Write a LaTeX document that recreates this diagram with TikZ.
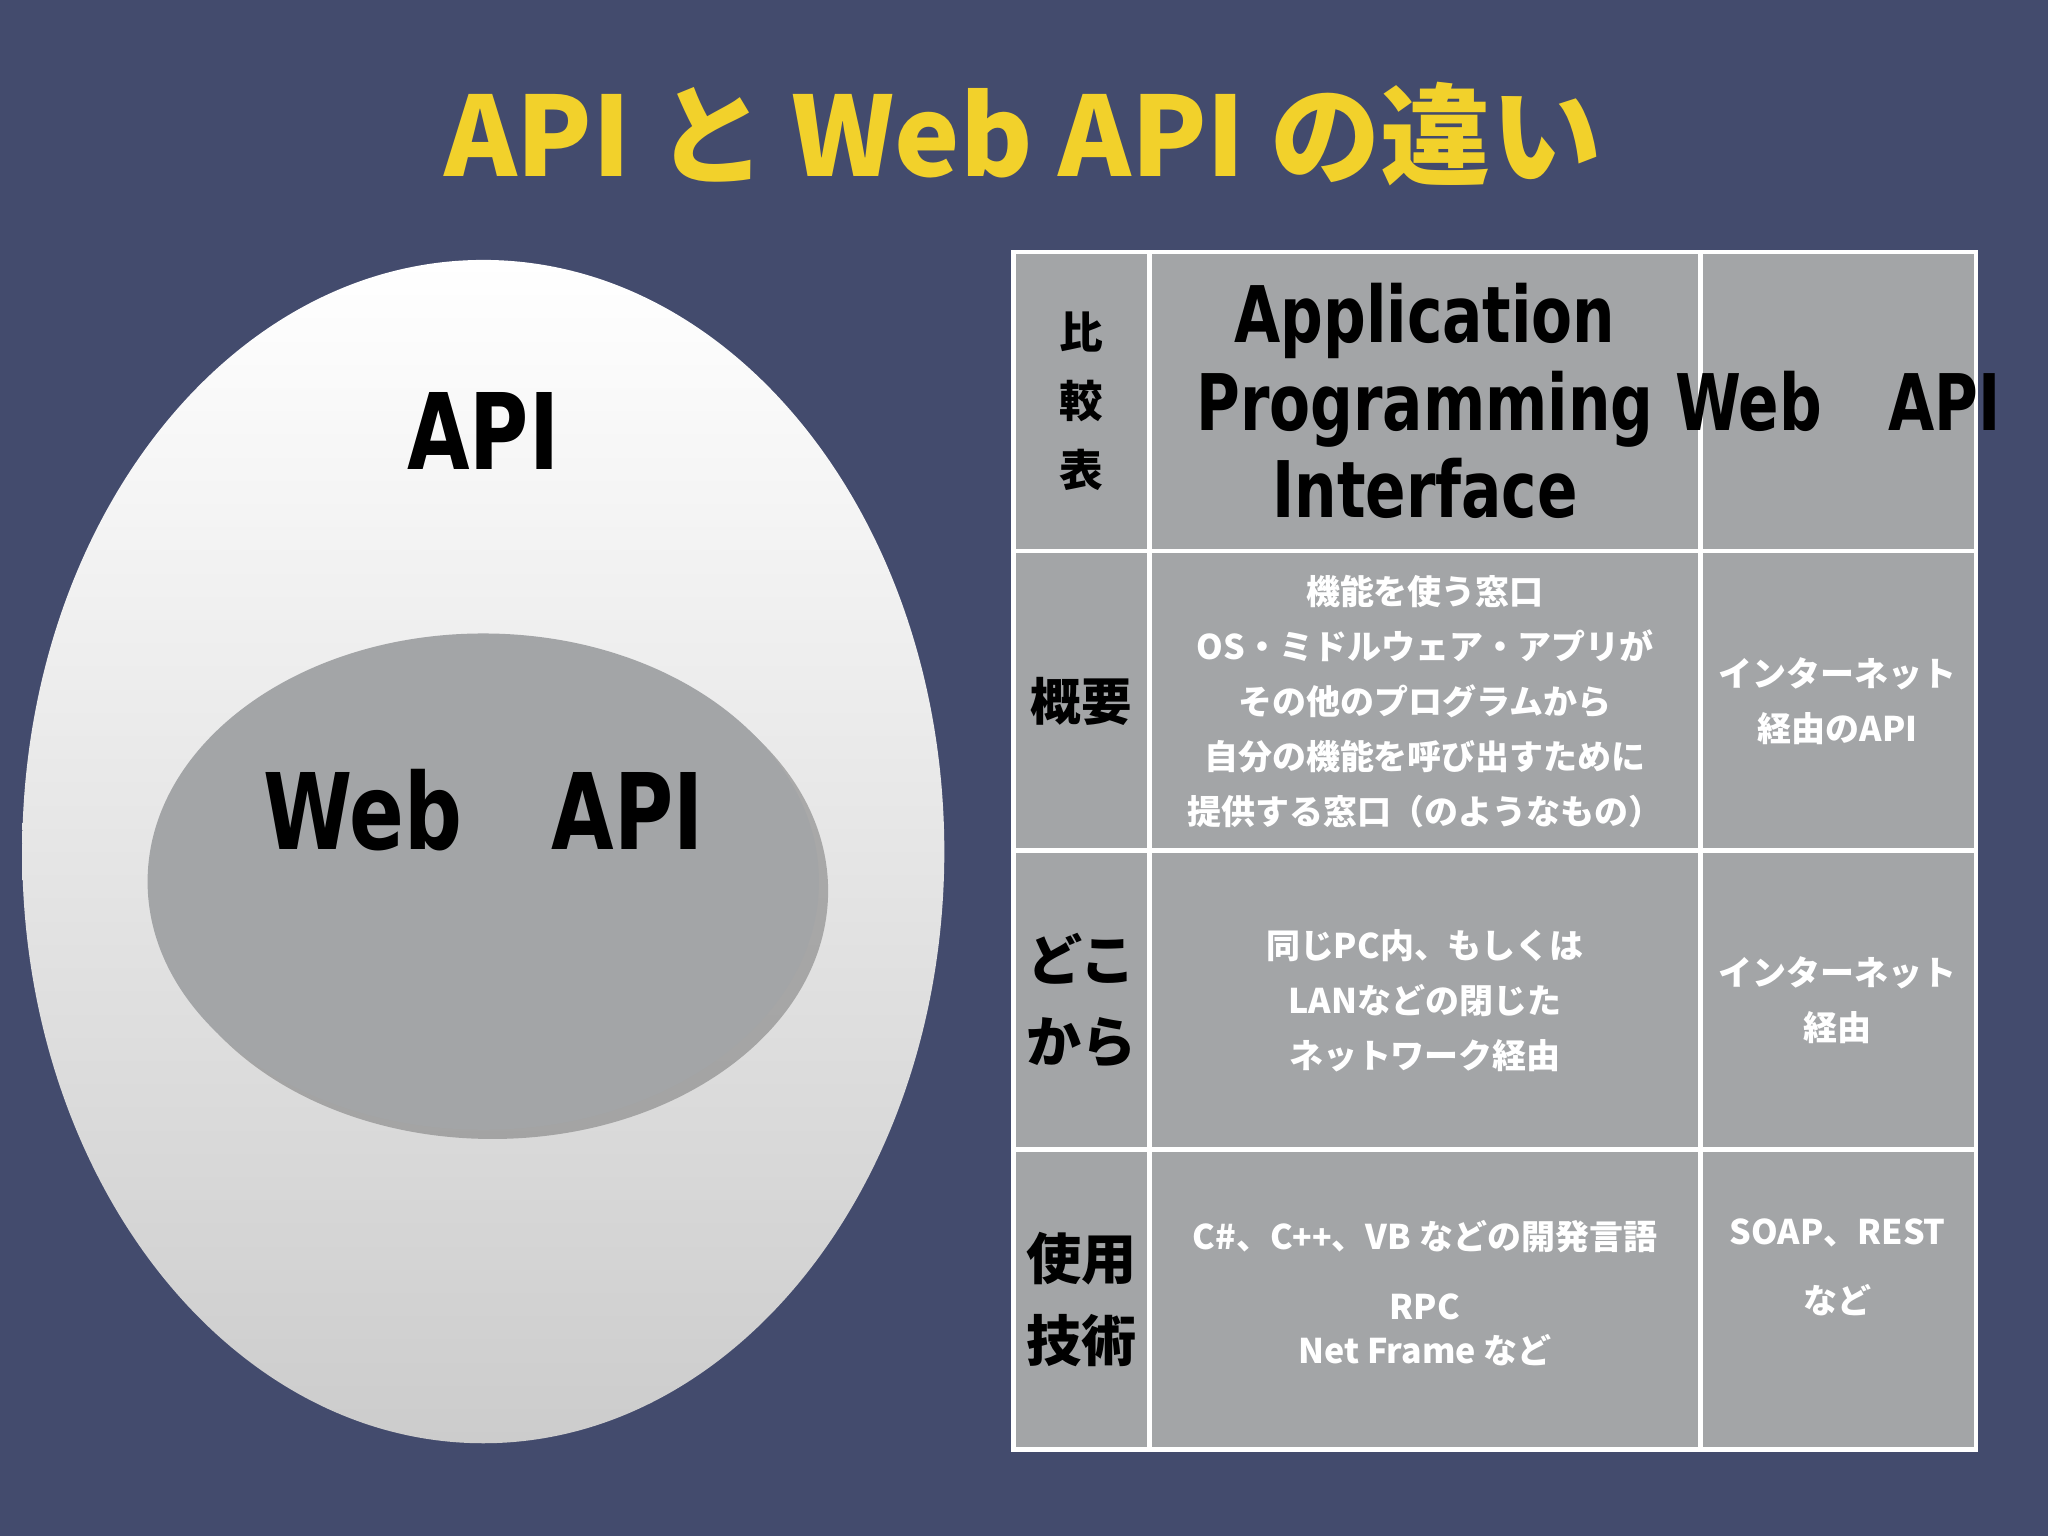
\documentclass[tikz,border=0pt]{standalone}
\usepackage{fontspec}
\setmainfont{Noto Sans CJK JP}
\newfontfamily\cjk{Noto Sans CJK JP}
\newfontfamily\cond{DejaVu Sans Condensed}
\usetikzlibrary{shadows}
\definecolor{bg}{HTML}{434B6D}
\definecolor{ttl}{HTML}{F2D12B}
\definecolor{cell}{HTML}{A3A5A7}
\tikzset{
 body/.style={text=white,font=\cjk\fontsize{7.4pt}{12pt}\selectfont\bfseries,align=center},
 hd/.style={text=black,font=\cond\bfseries\fontsize{17pt}{19pt}\selectfont,align=center,xscale=0.85},
 lf/.style={text=black,font=\cjk\bfseries\fontsize{11pt}{18pt}\selectfont,align=center}
}
\begin{document}
\begin{tikzpicture}[x=0.01cm,y=-0.01cm]
\fill[bg] (0,0) rectangle (1568,1176);
\node[text=ttl,font=\cjk\bfseries\fontsize{24pt}{28pt}\selectfont] (title) at (783,103) {API と Web API の違い};
% ellipses
\shade[top color=white,bottom color=gray!40] (370,652) ellipse [x radius=353,y radius=453];
\fill[cell,drop shadow={shadow xshift=2pt,shadow yshift=-2pt,opacity=0.6}] (370,675) ellipse [x radius=257,y radius=190];
\node[hd,font=\cond\bfseries\fontsize{23pt}{26pt}\selectfont] (api) at (370,330) {API};
\node[hd,font=\cond\bfseries\fontsize{23pt}{26pt}\selectfont] (webapi) at (370,620) {Web\quad API};
% table
\fill[cell] (776,193) rectangle (1513,1110);
\draw[white,line width=1pt] (776,193) rectangle (1513,1110)
 (880,193)--(880,1110) (1302,193)--(1302,1110)
 (776,422)--(1513,422) (776,651)--(1513,651) (776,880)--(1513,880);
\node[lf,font=\cjk\bfseries\fontsize{9.5pt}{15pt}\selectfont] (c00) at (828,307) {比\\較\\表};
\node[hd] (c01) at (1091,307) {Application\\Programming\\Interface};
\node[hd] (c02) at (1407,307) {Web\quad API};
\node[lf] (c10) at (828,537) {概要};
\node[body] (c11) at (1091,537) {機能を使う窓口\\OS・ミドルウェア・アプリが\\その他のプログラムから\\自分の機能を呼び出すために\\提供する窓口（のようなもの）};
\node[body] (c12) at (1407,537) {インターネット\\経由のAPI};
\node[lf,font=\cjk\bfseries\fontsize{12pt}{18pt}\selectfont] (c20) at (828,766) {どこ\\から};
\node[body] (c21) at (1091,766) {同じPC内、もしくは\\LANなどの閉じた\\ネットワーク経由};
\node[body] (c22) at (1407,766) {インターネット\\経由};
\node[lf,font=\cjk\bfseries\fontsize{12pt}{18pt}\selectfont] (c30) at (828,995) {使用\\技術};
\node[body] (c31a) at (1091,947) {C\#、C{\scriptsize ++}、VB などの開発言語};
\node[body,font=\cjk\fontsize{7.4pt}{9.5pt}\selectfont\bfseries] (c31b) at (1091,1018) {RPC\\Net Frame など};
\node[body,font=\cjk\fontsize{7.4pt}{15pt}\selectfont\bfseries] (c32) at (1407,970) {SOAP、REST\\など};
\end{tikzpicture}
\end{document}
